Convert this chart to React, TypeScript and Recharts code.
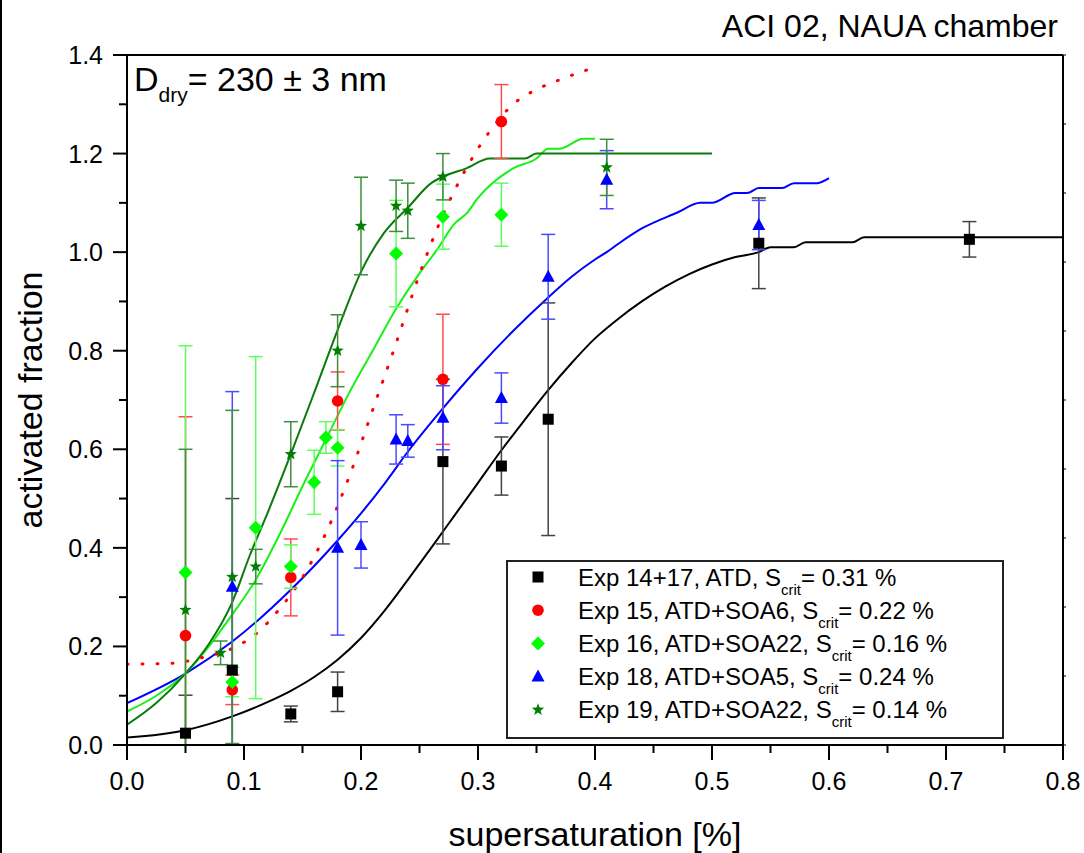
import React from "react";
import { ComposedChart, Line, Scatter, ErrorBar, XAxis, YAxis, Legend, Label } from "recharts";

const FONT = "Liberation Sans, Arial, Helvetica, sans-serif";

// axis ticks
const xTicks = [0, 0.05, 0.1, 0.15, 0.2, 0.25, 0.3, 0.35, 0.4, 0.45, 0.5, 0.55, 0.6, 0.65, 0.7, 0.75, 0.8];
const yTicks = [0, 0.1, 0.2, 0.3, 0.4, 0.5, 0.6, 0.7, 0.8, 0.9, 1.0, 1.1, 1.2, 1.3, 1.4];
const topTicks = [0, 0.08, 0.16, 0.24, 0.32, 0.4, 0.48, 0.56, 0.64, 0.72, 0.8];
const rightTicks = [0, 0.14, 0.28, 0.42, 0.56, 0.7, 0.84, 0.98, 1.12, 1.26, 1.4];

// measurements: supersaturation [%], activated fraction, error
const sExp1417 = [0.05, 0.09, 0.14, 0.18, 0.27, 0.32, 0.36, 0.54, 0.72];
const afExp1417 = [0.024, 0.152, 0.063, 0.108, 0.575, 0.566, 0.661, 1.018, 1.026];
const errExp1417 = [0.077, 0.348, 0.016, 0.04, 0.167, 0.059, 0.236, 0.092, 0.036];

const sExp15 = [0.05, 0.09, 0.14, 0.18, 0.27, 0.32];
const afExp15 = [0.222, 0.112, 0.34, 0.698, 0.742, 1.265];
const errExp15 = [0.444, 0.03, 0.078, 0.059, 0.132, 0.075];

const sExp16 = [0.05, 0.09, 0.11, 0.14, 0.16, 0.17, 0.18, 0.23, 0.27, 0.32];
const afExp16 = [0.35, 0.128, 0.441, 0.362, 0.533, 0.624, 0.603, 0.997, 1.072, 1.076];
const errExp16 = [0.46, 0.03, 0.347, 0.044, 0.065, 0.032, 0.037, 0.108, 0.066, 0.064];

const sExp18 = [0.09, 0.18, 0.2, 0.23, 0.24, 0.27, 0.32, 0.36, 0.41, 0.54];
const afExp18 = [0.321, 0.4, 0.406, 0.62, 0.617, 0.664, 0.704, 0.95, 1.147, 1.055];
const errExp18 = [0.396, 0.177, 0.047, 0.05, 0.033, 0.065, 0.051, 0.086, 0.059, 0.05];

const sExp19 = [0.05, 0.08, 0.09, 0.11, 0.14, 0.18, 0.2, 0.23, 0.24, 0.27, 0.41];
const afExp19 = [0.274, 0.187, 0.341, 0.362, 0.59, 0.8, 1.053, 1.094, 1.084, 1.153, 1.172];
const errExp19 = [0.326, 0.024, 0.338, 0.035, 0.066, 0.073, 0.099, 0.052, 0.056, 0.047, 0.057];

// fitted curves
const fitS1417 = [0, 0.05, 0.09, 0.12, 0.14, 0.16, 0.18, 0.2, 0.22, 0.24, 0.26, 0.28, 0.3, 0.32, 0.34, 0.36, 0.38, 0.4, 0.42, 0.44, 0.46, 0.48, 0.5, 0.52, 0.54, 0.55, 0.57, 0.58, 0.62, 0.63, 0.8];
const fitAf1417 = [0.015, 0.03, 0.058, 0.087, 0.11, 0.138, 0.173, 0.217, 0.272, 0.335, 0.4, 0.466, 0.532, 0.598, 0.66, 0.72, 0.775, 0.825, 0.865, 0.9, 0.93, 0.955, 0.975, 0.99, 1.0, 1.01, 1.01, 1.02, 1.02, 1.03, 1.03];

const fitS15 = [0, 0.04, 0.06, 0.09, 0.11, 0.13, 0.15, 0.17, 0.19, 0.21, 0.23, 0.25, 0.27, 0.29, 0.31, 0.33, 0.35, 0.37, 0.4];
const fitAf15 = [0.164, 0.166, 0.175, 0.196, 0.225, 0.275, 0.34, 0.43, 0.545, 0.68, 0.815, 0.955, 1.075, 1.17, 1.245, 1.3, 1.33, 1.35, 1.375];

const fitS16 = [0, 0.025, 0.05, 0.07, 0.09, 0.11, 0.13, 0.15, 0.17, 0.19, 0.21, 0.23, 0.25, 0.265, 0.28, 0.29, 0.3, 0.33, 0.35, 0.36, 0.37, 0.39, 0.4];
const fitAf16 = [0.068, 0.1, 0.145, 0.2, 0.265, 0.335, 0.425, 0.525, 0.62, 0.715, 0.8, 0.885, 0.957, 1.005, 1.058, 1.078, 1.11, 1.17, 1.19, 1.21, 1.21, 1.23, 1.23];

const fitS18 = [0, 0.05, 0.09, 0.14, 0.18, 0.2, 0.22, 0.24, 0.27, 0.3, 0.33, 0.36, 0.38, 0.4, 0.41, 0.42, 0.44, 0.47, 0.49, 0.5, 0.52, 0.53, 0.54, 0.56, 0.57, 0.59, 0.6];
const fitAf18 = [0.085, 0.145, 0.21, 0.315, 0.415, 0.47, 0.53, 0.595, 0.683, 0.765, 0.84, 0.908, 0.95, 0.985, 1.0, 1.017, 1.048, 1.08, 1.1, 1.1, 1.12, 1.12, 1.13, 1.13, 1.14, 1.14, 1.15];

const fitS19 = [0, 0.025, 0.05, 0.07, 0.09, 0.105, 0.12, 0.14, 0.16, 0.18, 0.2, 0.22, 0.24, 0.26, 0.27, 0.29, 0.31, 0.34, 0.35, 0.5];
const fitAf19 = [0.041, 0.085, 0.145, 0.205, 0.29, 0.385, 0.47, 0.59, 0.715, 0.842, 0.96, 1.04, 1.09, 1.14, 1.153, 1.17, 1.19, 1.19, 1.2, 1.2];

const legendLabels = ["Exp 14+17, ATD, S", "Exp 15, ATD+SOA6, S", "Exp 16, ATD+SOA22, S", "Exp 18, ATD+SOA5, S", "Exp 19, ATD+SOA22, S"];
const legendScrit = ["= 0.31 %", "= 0.22 %", "= 0.16 %", "= 0.24 %", "= 0.14 %"];

// error bars are cut at the x axis, as in the original plot
const points = (xs: number[], ys: number[], errs?: number[]) =>
  xs.map((x, i) => {
    const e = errs ? errs[i] : 0;
    return { x, y: ys[i], err: [Math.min(e, ys[i]), e] };
  });

const square = (p: any) => <rect x={p.cx - 5.5} y={p.cy - 5.5} width={11} height={11} fill="#000000" />;
const circle = (p: any) => <circle cx={p.cx} cy={p.cy} r={5.8} fill="#ff0000" />;
const diamond = (p: any) => (
  <polygon
    points={`${p.cx},${p.cy - 7} ${p.cx + 7},${p.cy} ${p.cx},${p.cy + 7} ${p.cx - 7},${p.cy}`}
    fill="#00ff00"
  />
);
const triangle = (p: any) => (
  <polygon
    points={`${p.cx},${p.cy - 7} ${p.cx + 6.5},${p.cy + 5} ${p.cx - 6.5},${p.cy + 5}`}
    fill="#0000ff"
  />
);
const star = (p: any) => {
  const pts: string[] = [];
  for (let k = 0; k < 10; k++) {
    const r = k % 2 === 0 ? 6.5 : 2.7;
    const a = -Math.PI / 2 + (k * Math.PI) / 5;
    pts.push(`${p.cx + r * Math.cos(a)},${p.cy + r * Math.sin(a)}`);
  }
  return <polygon points={pts.join(" ")} fill="#007f00" />;
};

const series = [
  { name: "exp1417", data: points(sExp1417, afExp1417, errExp1417), shape: square, bar: "#444444" },
  { name: "exp15", data: points(sExp15, afExp15, errExp15), shape: circle, bar: "#ff4d4d" },
  { name: "exp16", data: points(sExp16, afExp16, errExp16), shape: diamond, bar: "#5cff5c" },
  { name: "exp18", data: points(sExp18, afExp18, errExp18), shape: triangle, bar: "#4a4aff" },
  { name: "exp19", data: points(sExp19, afExp19, errExp19), shape: star, bar: "#3c8f3c" },
];

const XTick = (props: any) => {
  const { x, y, payload } = props;
  const v = payload.value as number;
  const major = Math.round(v * 100) % 10 === 0;
  return (
    <g>
      <line x1={x} x2={x} y1={y} y2={y + (major ? 15 : 8)} stroke="#000" strokeWidth={2} />
      {major && (
        <text x={x} y={y + 45} textAnchor="middle" fontSize={25} fontFamily={FONT} fill="#000">
          {v.toFixed(1)}
        </text>
      )}
    </g>
  );
};

const YTick = (props: any) => {
  const { x, y, payload } = props;
  const v = payload.value as number;
  const major = Math.round(v * 10) % 2 === 0;
  return (
    <g>
      <line x1={x} x2={x - (major ? 14 : 8)} y1={y} y2={y} stroke="#000" strokeWidth={2} />
      {major && (
        <text x={x - 24} y={y + 9} textAnchor="end" fontSize={25} fontFamily={FONT} fill="#000">
          {v.toFixed(1)}
        </text>
      )}
    </g>
  );
};

const renderLegend = () => (
  <svg width={498} height={179} style={{ display: "block" }}>
    <rect x={1} y={1} width={496} height={177} fill="#fff" stroke="#222" strokeWidth={2} />
    {legendLabels.map((label, i) => {
      const cy = 17 + i * 33.2;
      return (
        <g key={label}>
          {series[i].shape({ cx: 32, cy })}
          <text x={72} y={cy + 8.5} fontSize={24} fontFamily={FONT} fill="#000">
            {label}
            <tspan fontSize={15} dy={9}>crit</tspan>
            <tspan dy={-9}>{legendScrit[i]}</tspan>
          </text>
        </g>
      );
    })}
  </svg>
);

const fitLine = (xs: number[], ys: number[], color: string, dashed = false) => (
  <Line
    data={points(xs, ys)}
    dataKey="y"
    type="monotone"
    stroke={color}
    strokeWidth={dashed ? 3 : 2}
    strokeDasharray={dashed ? "1 14" : undefined}
    strokeLinecap={dashed ? "round" : undefined}
    dot={false}
    activeDot={false}
    isAnimationActive={false}
  />
);

export default function App() {
  return (
    <div style={{ position: "relative", width: 1084, height: 853, background: "#fff" }}>
      <style>{"body{margin:0}"}</style>
      <ComposedChart
        width={1084}
        height={853}
        margin={{ top: 50, right: 16, bottom: 48, left: 27 }}
      >
        <XAxis
          xAxisId={0}
          dataKey="x"
          type="number"
          domain={[0, 0.8]}
          ticks={xTicks}
          interval={0}
          allowDataOverflow
          height={60}
          tickSize={0}
          tickMargin={0}
          tickLine={false}
          tick={<XTick />}
          axisLine={{ stroke: "#000", strokeWidth: 2 }}
          label={
            <Label
              content={(p: any) => (
                <text
                  x={p.viewBox.x + p.viewBox.width / 2}
                  y={p.viewBox.y + 101}
                  textAnchor="middle"
                  fontSize={34}
                  fontFamily={FONT}
                  fill="#000"
                >
                  supersaturation [%]
                </text>
              )}
            />
          }
        />
        <XAxis
          xAxisId="top"
          orientation="top"
          type="number"
          domain={[0, 0.8]}
          ticks={topTicks}
          interval={0}
          allowDataOverflow
          height={5}
          tickSize={3}
          tickFormatter={() => ""}
          tickLine={{ stroke: "#000", strokeWidth: 1 }}
          axisLine={{ stroke: "#000", strokeWidth: 2 }}
        />
        <YAxis
          yAxisId={0}
          type="number"
          domain={[0, 1.4]}
          ticks={yTicks}
          interval={0}
          allowDataOverflow
          width={100}
          tickSize={0}
          tickMargin={0}
          tickLine={false}
          tick={<YTick />}
          axisLine={{ stroke: "#000", strokeWidth: 2 }}
          label={
            <Label
              content={(p: any) => {
                const cy = p.viewBox.y + p.viewBox.height / 2;
                return (
                  <text
                    x={42}
                    y={cy}
                    transform={`rotate(-90 42 ${cy})`}
                    textAnchor="middle"
                    fontSize={34}
                    fontFamily={FONT}
                    fill="#000"
                  >
                    activated fraction
                  </text>
                );
              }}
            />
          }
        />
        <YAxis
          yAxisId="right"
          orientation="right"
          type="number"
          domain={[0, 1.4]}
          ticks={rightTicks}
          interval={0}
          allowDataOverflow
          width={5}
          tickSize={3}
          tickFormatter={() => ""}
          tickLine={{ stroke: "#000", strokeWidth: 1 }}
          axisLine={{ stroke: "#000", strokeWidth: 2 }}
        />

        {fitLine(fitS1417, fitAf1417, "#000000")}
        {fitLine(fitS18, fitAf18, "#0000ff")}
        {fitLine(fitS16, fitAf16, "#19f019")}
        {fitLine(fitS19, fitAf19, "#0a7a0a")}
        {fitLine(fitS15, fitAf15, "#ff0000", true)}

        {series.map((s) => (
          <Scatter key={s.name} name={s.name} data={s.data} dataKey="y" shape={s.shape} isAnimationActive={false}>
            <ErrorBar dataKey="err" direction="y" width={7} stroke={s.bar} strokeWidth={1.5} />
          </Scatter>
        ))}

        <Legend
          layout="vertical"
          align="center"
          verticalAlign="middle"
          content={renderLegend}
          wrapperStyle={{ position: "absolute", left: 506, top: 560, width: 498, height: 179 }}
        />
      </ComposedChart>

      <svg
        width={1084}
        height={853}
        style={{ position: "absolute", left: 0, top: 0, pointerEvents: "none" }}
      >
        <line x1={1} y1={0} x2={1} y2={853} stroke="#000" strokeWidth={2} />
        <text x={1058} y={37} textAnchor="end" fontSize={32} fontFamily={FONT} fill="#000">
          ACI 02, NAUA chamber
        </text>
        <text x={134} y={91} fontSize={34} fontFamily={FONT} fill="#000">
          D
          <tspan fontSize={21} dy={11}>dry</tspan>
          <tspan dy={-11}>= 230 ± 3 nm</tspan>
        </text>
      </svg>
    </div>
  );
}
